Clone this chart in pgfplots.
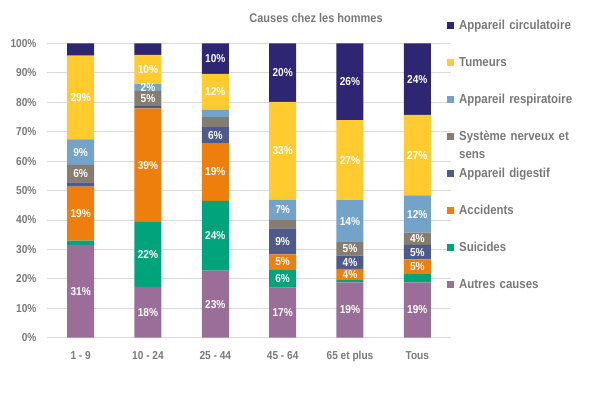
\documentclass[border=0pt]{standalone}
\usepackage{fontspec}
\setmainfont{Liberation Sans}[FakeStretch=0.88]
\usepackage{pgfplots}
\usepackage{pgfplotstable}
\pgfplotsset{compat=1.18}
\definecolor{ccirc}{RGB}{46,38,114}
\definecolor{ctum}{RGB}{255,203,47}
\definecolor{cresp}{RGB}{115,163,201}
\definecolor{cnerv}{RGB}{135,124,112}
\definecolor{cdig}{RGB}{79,90,140}
\definecolor{cacc}{RGB}{238,127,13}
\definecolor{csui}{RGB}{0,163,122}
\definecolor{caut}{RGB}{154,110,153}
\definecolor{tgray}{RGB}{120,120,120}
\definecolor{ggray}{RGB}{217,217,217}

% segment shares (%), bottom to top
\pgfplotstableread{
x aut sui acc dig nerv resp tum circ
0 31.5 1.5 18.3 1.5 5.9 8.7 28.4 4.2
1 17.3 22.0 38.6 0.8 5.1 2.3 10.0 3.9
2 22.8 23.7 19.6 5.4 3.4 2.5 12.2 10.4
3 17.0 6.2 5.1 8.8 2.8 7.0 33.2 19.9
4 18.8 1.0 3.6 4.5 4.6 14.2 27.2 26.1
5 18.8 2.8 5.0 4.9 4.2 12.6 27.4 24.3
}\data

% printed labels, at the middle of their segment
\pgfplotstableread{
x y lab
0 15.75 31
0 42.15 19
0 55.75 6
0 63.05 9
0 81.6 29
1 8.65 18
1 28.3 22
1 58.6 39
1 81.25 5
1 84.95 2
1 91.1 10
2 11.4 23
2 34.65 24
2 56.3 19
2 68.8 6
2 83.5 12
2 94.8 10
3 8.5 17
3 20.1 6
3 25.75 5
3 32.7 9
3 43.4 7
3 63.5 33
3 90.05 20
4 9.4 19
4 21.6 4
4 25.65 4
4 30.2 5
4 39.6 14
4 60.3 27
4 86.95 26
5 9.4 19
5 24.1 5
5 29.05 5
5 33.6 4
5 42.0 12
5 62.0 27
5 87.85 24
}\labels

\newcommand\serie[3]{%
  \addplot[fill=#2, draw=none] table[x=x,y=#1]{\data};
  \addlegendentry{#3}}

\pgfplotsset{common/.style={
  scale only axis,
  width=404pt, height=294.4pt,
  xmin=-0.5, xmax=5.5, ymin=0, ymax=100}}

\begin{document}
\begin{tikzpicture}
\useasboundingbox (-47pt,-57.3pt) rectangle (553pt,337.7pt);
\begin{axis}[
  common,
  ybar stacked,
  bar width=27pt,
  axis line style={draw=none},
  major tick length=0pt,
  ymajorgrids, grid style={ggray, line width=0.8pt},
  ytick={0,10,...,100},
  yticklabels={0\%,10\%,20\%,30\%,40\%,50\%,60\%,70\%,80\%,90\%,100\%},
  yticklabel style={font=\fontsize{11.5}{13}\selectfont\bfseries, text=tgray, xshift=-7pt},
  xtick={0,1,2,3,4,5},
  xticklabels={1 - 9, 10 - 24, 25 - 44, 45 - 64, 65 et plus, Tous},
  xticklabel style={font=\fontsize{11.5}{13}\selectfont\bfseries, text=tgray, yshift=-10pt},
  title={Causes chez les hommes},
  title style={at={(0.666,1.0656)}, anchor=center, font=\fontsize{12.5}{15}\selectfont\bfseries, text=tgray},
  legend image code/.code={\fill[#1] (0pt,0.5pt) rectangle (7pt,7.5pt); \path (0pt,-7.5pt) (12pt,7.5pt);},
  reverse legend,
  legend style={at={(0.990,1.1097)}, anchor=north west, draw=none, fill=none,
    inner sep=0pt, row sep=0pt,
    font=\fontsize{13}{18}\selectfont\bfseries, text=tgray,
    nodes={text width=140pt, align=left, text height=18.5pt, text depth=18.5pt, inner sep=0pt}},
  legend cell align=left,
]
\serie{aut}{caut}{Autres causes}
\serie{sui}{csui}{Suicides}
\serie{acc}{cacc}{Accidents}
\serie{dig}{cdig}{Appareil digestif}
\serie{nerv}{cnerv}{Système nerveux et\\sens}
\serie{resp}{cresp}{Appareil respiratoire}
\serie{tum}{ctum}{Tumeurs}
\serie{circ}{ccirc}{Appareil circulatoire}
\end{axis}
\begin{axis}[common, hide axis]
\addplot[draw=none, mark=none, point meta=explicit symbolic,
  nodes near coords={\pgfplotspointmeta\%},
  every node near coord/.append style={anchor=center, text=white,
     font=\fontsize{11.5}{13}\selectfont\bfseries}]
  table[x=x, y=y, meta=lab]{\labels};
\end{axis}
\end{tikzpicture}
\end{document}
